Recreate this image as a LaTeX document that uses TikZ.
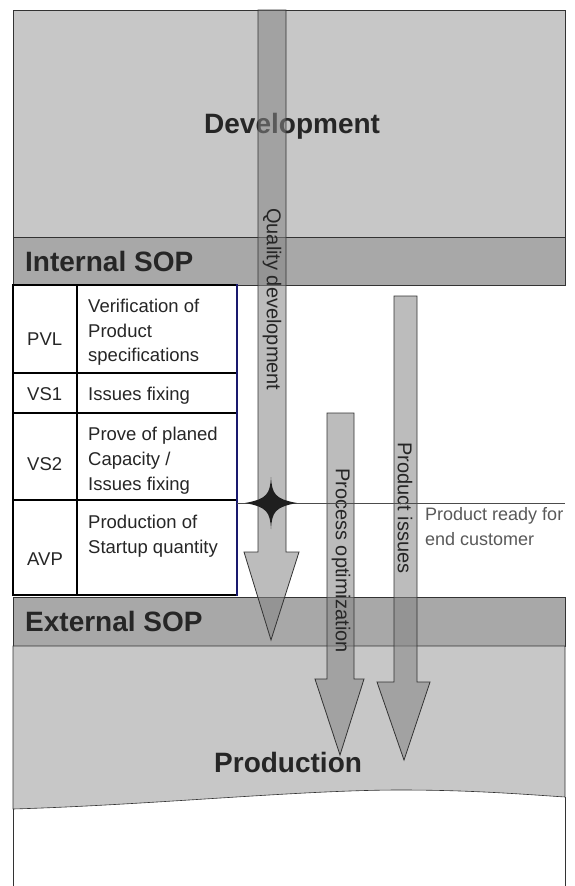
\documentclass[tikz,border=0pt]{standalone}
\usepackage{fontspec}
\setmainfont{Liberation Sans}
\definecolor{zonegray}{gray}{0.78}
\definecolor{bandgray}{gray}{0.66}
\definecolor{arrowgray}{gray}{0.52}
\definecolor{inkgray}{gray}{0.15}
\definecolor{notegray}{gray}{0.35}
\definecolor{tableblue}{RGB}{25,25,110}
\begin{document}
\begin{tikzpicture}[x=1pt,y=-1pt,
  zone/.style={draw=black!80, line width=0.6pt},
  title/.style={font=\fontsize{28}{30}\selectfont\bfseries, text=inkgray, inner sep=0pt, anchor=base west},
  cell/.style={font=\fontsize{18.5}{22}\selectfont, text=inkgray, inner sep=0pt, anchor=base west},
  note/.style={font=\fontsize{18}{22}\selectfont, text=notegray, inner sep=0pt, anchor=base west},
  flow/.style={fill=arrowgray, fill opacity=0.55, draw=black!80, line width=0.8pt},
  flowlabel/.style={font=\fontsize{20}{22}\selectfont, text=inkgray, rotate=-90, anchor=west, inner sep=0pt},
  grid/.style={draw=black, line width=1.1pt},
]
\useasboundingbox (0,0) rectangle (574,886);
\fill[white] (0,0) rectangle (574,886);

% phase zones
\filldraw[zone, fill=zonegray] (13,10) rectangle (565,237);
\filldraw[zone, fill=bandgray] (13,237) rectangle (565,285);
\filldraw[zone, fill=bandgray] (13,597) rectangle (565,646);
\filldraw[zone, fill=zonegray] (13,646) -- (565,646) -- (565,797)
  .. controls (520,794) and (470,790) .. (400,790)
  .. controls (300,790) and (150,805) .. (13,809) -- cycle;
\draw[zone] (13,809) -- (13,886);
\draw[zone] (565,797) -- (565,886);

\node[title] (dev) at (204,133) {Development};
\node[title] (isop) at (25,271) {Internal SOP};
\node[title] (esop) at (25,631) {External SOP};
\node[title] (prod) at (214,772) {Production};

% milestone table
\fill[white] (13,285) rectangle (237,595);
\draw[grid] (77,285) -- (77,595);
\draw[grid] (13,373) -- (237,373);
\draw[grid] (13,413) -- (237,413);
\draw[grid] (13,500) -- (237,500);
\draw[black, line width=2pt] (237,285) -- (13,285) -- (13,595) -- (237,595);
\draw[tableblue, line width=2pt] (237,284) -- (237,596);

\node[cell] (pvl) at (27,345) {PVL};
\node[cell] (pvla) at (88,312) {Verification of};
\node[cell] (pvlb) at (88,337) {Product};
\node[cell] (pvlc) at (88,361) {specifications};
\node[cell] (vs1) at (27,400) {VS1};
\node[cell] (vs1a) at (88,400) {Issues fixing};
\node[cell] (vs2) at (27,470) {VS2};
\node[cell] (vs2a) at (88,440) {Prove of planed};
\node[cell] (vs2b) at (88,465) {Capacity /};
\node[cell] (vs2c) at (88,490) {Issues fixing};
\node[cell] (avp) at (27,565) {AVP};
\node[cell] (avpa) at (88,528) {Production of};
\node[cell] (avpb) at (88,553) {Startup quantity};

% flow arrows
\filldraw[flow] (258,10) -- (258,552) -- (244,552) -- (271,640) -- (299,552)
  -- (286,552) -- (286,10) -- cycle;
\filldraw[flow] (327,413) -- (327,679) -- (315,679) -- (340,755) -- (364,679)
  -- (354,679) -- (354,413) -- cycle;
\filldraw[flow] (394,296) -- (394,682) -- (377,682) -- (404,760) -- (430,682)
  -- (417,682) -- (417,296) -- cycle;

\node[flowlabel] (qd) at (272,208) {Quality development};
\node[flowlabel] (po) at (341,468) {Process optimization};
\node[flowlabel] (pi) at (405,442) {Product issues};

% release milestone
\coordinate (rel) at (271,503);
\coordinate (relend) at (565,503);
\draw[black!70, line width=0.6pt] (237,503) -- (relend);
\fill[black!88] (271,477)
  .. controls (272,494) and (275,499) .. (297,503)
  .. controls (275,507) and (272,512) .. (271,529)
  .. controls (270,512) and (267,507) .. (245,503)
  .. controls (267,499) and (270,494) .. cycle;
\node[note] (ready1) at (425,520) {Product ready for};
\node[note] (ready2) at (425,545) {end customer};
\end{tikzpicture}
\end{document}
